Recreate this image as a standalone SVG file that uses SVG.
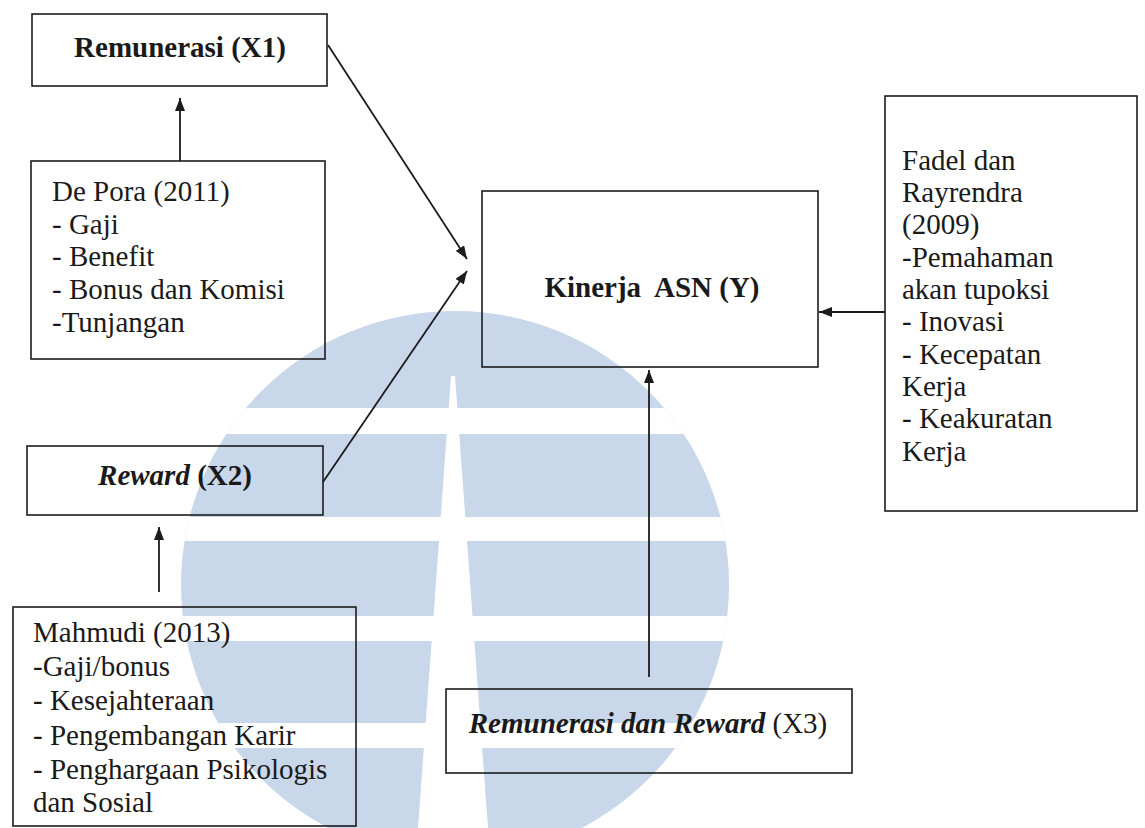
<svg xmlns="http://www.w3.org/2000/svg" width="1145" height="828" viewBox="0 0 1145 828">
<style>
.box{fill:none;stroke:#1c1c1c;stroke-width:1.6}
.t{font-family:"Liberation Serif","Times New Roman",serif;font-size:29px;fill:#1a1a1a}
.b{font-weight:bold}
.bi{font-weight:bold;font-style:italic}
.c{text-anchor:middle}
.conn{stroke:#1c1c1c;stroke-width:1.8;fill:none;marker-end:url(#ah)}
</style>
<defs>
<marker id="ah" markerUnits="userSpaceOnUse" markerWidth="14" markerHeight="12" refX="13" refY="5" orient="auto">
<path d="M0,0 L13,5 L0,10 z" fill="#1c1c1c"/>
</marker>
<clipPath id="wmClip"><circle cx="455" cy="585" r="274"/></clipPath>
</defs>
<rect width="1145" height="828" fill="#ffffff"/>
<g id="watermark" clip-path="url(#wmClip)">
<rect x="0" y="300" width="1145" height="528" fill="#c8d7ea"/>
<rect x="0" y="408" width="1145" height="26" fill="#ffffff"/>
<rect x="0" y="517" width="1145" height="24" fill="#ffffff"/>
<rect x="0" y="616" width="1145" height="25" fill="#ffffff"/>
<rect x="0" y="723" width="1145" height="25" fill="#ffffff"/>
<polygon points="451,376 455,376 488,828 418,828" fill="#ffffff"/>
</g>
<g id="node-x1">
<rect class="box" x="32" y="14" width="295" height="72"/>
<text class="t b c" x="180" y="57">Remunerasi (X1)</text>
</g>
<g id="node-depora">
<rect class="box" x="31" y="161" width="294" height="198"/>
<text class="t" x="52" y="201">De Pora (2011)</text>
<text class="t" x="52" y="234">- Gaji</text>
<text class="t" x="52" y="266">- Benefit</text>
<text class="t" x="52" y="299">- Bonus dan Komisi</text>
<text class="t" x="52" y="332">-Tunjangan</text>
</g>
<g id="node-x2">
<rect class="box" x="27" y="446" width="296" height="69"/>
<text class="t b c" x="175" y="485"><tspan class="bi">Reward</tspan> (X2)</text>
</g>
<g id="node-mahmudi">
<rect class="box" x="13" y="607" width="343" height="219"/>
<text class="t" x="33" y="642">Mahmudi (2013)</text>
<text class="t" x="33" y="676">-Gaji/bonus</text>
<text class="t" x="33" y="710">- Kesejahteraan</text>
<text class="t" x="33" y="745">- Pengembangan Karir</text>
<text class="t" x="33" y="779">- Penghargaan Psikologis</text>
<text class="t" x="33" y="812">dan Sosial</text>
</g>
<g id="node-kinerja">
<rect class="box" x="482" y="191" width="336" height="176"/>
<text class="t b c" x="652" y="297" style="white-space:pre">Kinerja  ASN (Y)</text>
</g>
<g id="node-fadel">
<rect class="box" x="885" y="96" width="252" height="415"/>
<text class="t" x="902" y="170">Fadel dan</text>
<text class="t" x="902" y="202">Rayrendra</text>
<text class="t" x="902" y="234">(2009)</text>
<text class="t" x="902" y="267">-Pemahaman</text>
<text class="t" x="902" y="299">akan tupoksi</text>
<text class="t" x="902" y="331">- Inovasi</text>
<text class="t" x="902" y="364">- Kecepatan</text>
<text class="t" x="902" y="396">Kerja</text>
<text class="t" x="902" y="428">- Keakuratan</text>
<text class="t" x="902" y="461">Kerja</text>
</g>
<g id="node-x3">
<rect class="box" x="446" y="689" width="406" height="84"/>
<text class="t c" x="648" y="733"><tspan class="bi">Remunerasi dan Reward</tspan> (X3)</text>
</g>
<g id="connectors">
<path class="conn" d="M180,161 L180,98"/>
<path class="conn" d="M328,45 L467,259"/>
<path class="conn" d="M323,482 L467,271"/>
<path class="conn" d="M885,312 L819,312"/>
<path class="conn" d="M649,677 L649,370"/>
<path class="conn" d="M159,592 L159,527"/>
</g>
</svg>
